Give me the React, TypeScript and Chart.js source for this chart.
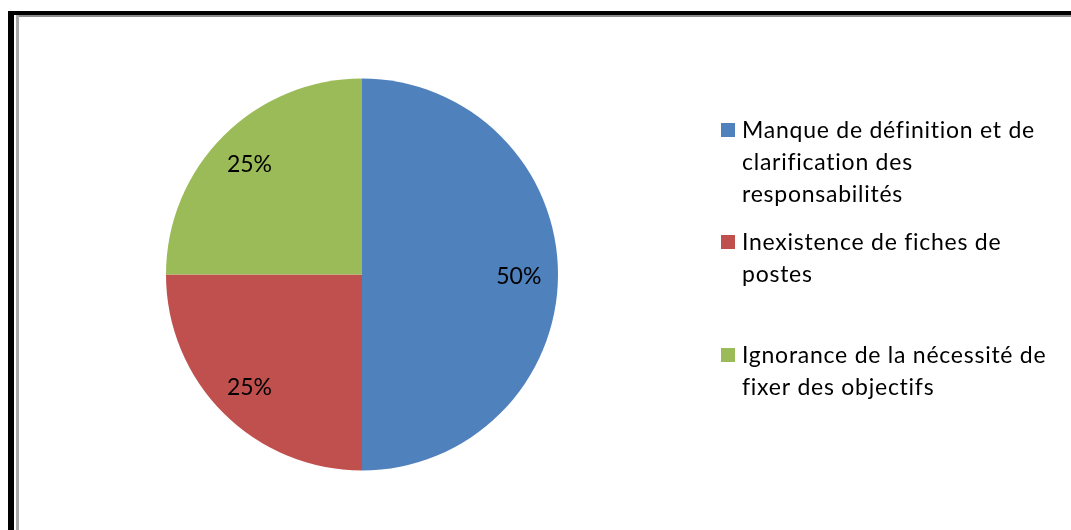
import React, { useEffect, useRef } from "react";
import { Chart, registerables } from "chart.js";

Chart.register(...registerables);

// ---- data ----
const categories: string[][] = [
  ["Manque de définition et de", "clarification des", "responsabilités"],
  ["Inexistence de fiches de", "postes"],
  ["Ignorance de la nécessité de", "fixer des objectifs"],
];
const shares: number[] = [50, 25, 25];
const sliceColors: string[] = ["#4F81BD", "#C0504D", "#9BBB59"];

// ---- layout constants ----
const W = 1071;
const H = 530;
const FONT = "Lato, 'Open Sans', sans-serif";
const legendX = 721;
const legendTextX = 742;
const legendSwatch = 14;
const legendItemTops = [123, 235, 348];
const legendLineHeight = 32;

const percentLabels = {
  id: "percentLabels",
  afterDatasetsDraw(chart: any) {
    const ctx = chart.ctx;
    const meta = chart.getDatasetMeta(0);
    const values = chart.data.datasets[0].data as number[];
    ctx.save();
    ctx.font = `23px ${FONT}`;
    ctx.fillStyle = "#000";
    ctx.textAlign = "center";
    ctx.textBaseline = "middle";
    meta.data.forEach((arc: any, i: number) => {
      const p = arc.getProps(["x", "y", "startAngle", "endAngle", "outerRadius"], true);
      const mid = (p.startAngle + p.endAngle) / 2;
      const r = p.outerRadius * 0.805;
      ctx.fillText(`${values[i]}%`, p.x + Math.cos(mid) * r - 1, p.y + Math.sin(mid) * r + 2);
    });
    ctx.restore();
  },
};

const sideLegend = {
  id: "sideLegend",
  afterDraw(chart: any) {
    const ctx = chart.ctx;
    const labels = chart.data.labels as string[][];
    const colors = chart.data.datasets[0].backgroundColor as string[];
    ctx.save();
    ctx.font = `23px ${FONT}`;
    (ctx as any).letterSpacing = "0.75px";
    ctx.textAlign = "left";
    ctx.textBaseline = "alphabetic";
    labels.forEach((lines, i) => {
      const top = legendItemTops[i];
      ctx.fillStyle = colors[i];
      ctx.fillRect(legendX, top, legendSwatch, legendSwatch);
      ctx.fillStyle = "#000";
      lines.forEach((line, j) => {
        ctx.fillText(line, legendTextX, top + 14.5 + j * legendLineHeight);
      });
    });
    ctx.restore();
  },
};

export default function App() {
  const canvasRef = useRef<HTMLCanvasElement | null>(null);

  useEffect(() => {
    if (!canvasRef.current) return;
    const chart = new Chart(canvasRef.current, {
      type: "pie",
      data: {
        labels: categories,
        datasets: [
          {
            data: shares,
            backgroundColor: sliceColors,
            borderWidth: 0,
            hoverOffset: 0,
          },
        ],
      },
      options: {
        responsive: false,
        animation: false,
        devicePixelRatio: 1,
        layout: { padding: { left: 166, right: 513, top: 78.5, bottom: 59.5 } },
        plugins: {
          legend: { display: false },
          tooltip: { enabled: false },
          title: { display: false },
        },
      },
      plugins: [percentLabels, sideLegend],
    });
    return () => chart.destroy();
  }, []);

  return (
    <div style={{ position: "fixed", left: 0, top: 0, width: W, height: H, background: "#fff", overflow: "hidden" }}>
      <canvas ref={canvasRef} width={W} height={H} style={{ position: "absolute", left: 0, top: 0 }} />
      <div style={{ position: "absolute", left: 8, top: 11, width: 6, height: H - 11, background: "#000" }} />
      <div style={{ position: "absolute", left: 8, top: 11, width: W - 8, height: 4, background: "#000" }} />
      <div style={{ position: "absolute", left: 16, top: 15, width: W - 16, height: 2, background: "#8c8c8c" }} />
      <div style={{ position: "absolute", left: 16, top: 15, width: 3, height: H - 15, background: "#a9a9a9" }} />
    </div>
  );
}
